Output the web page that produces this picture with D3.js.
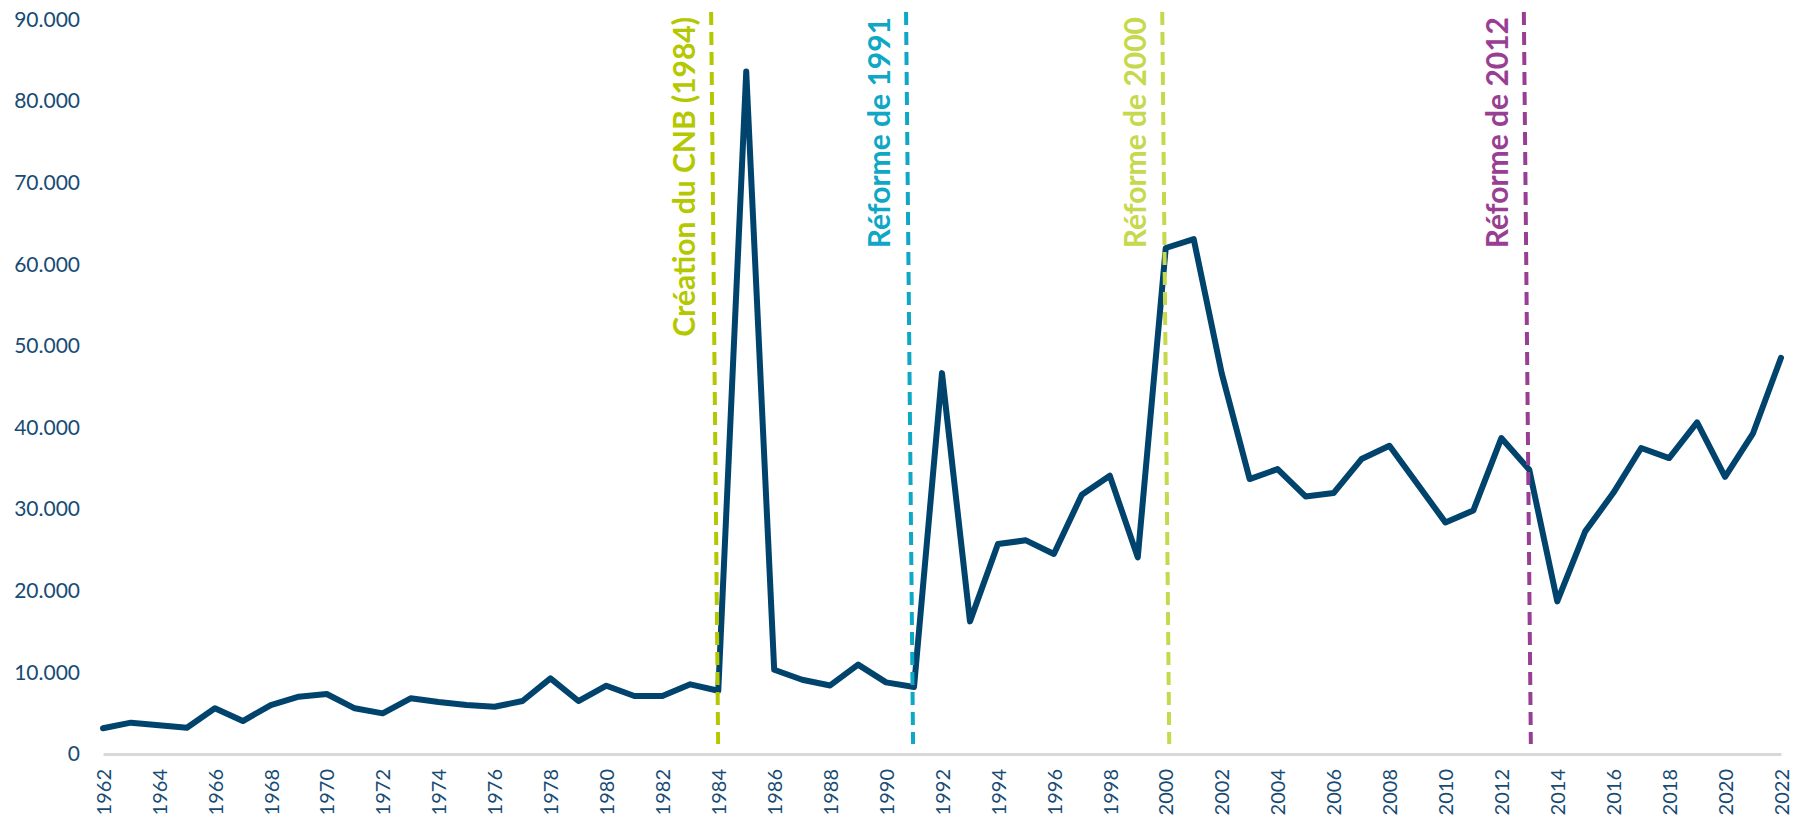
<!DOCTYPE html>
<html>
<head>
<meta charset="utf-8">
<script src="https://cdn.jsdelivr.net/npm/d3@7"></script>
<style>
  body { margin: 0; background: #fff; }
  svg { display: block; }
</style>
</head>
<body>
<svg></svg>
<script>
var width = 1795;
var height = 817;

// years on the x axis
var years = [1962, 1963, 1964, 1965, 1966, 1967, 1968, 1969, 1970, 1971,
    1972, 1973, 1974, 1975, 1976, 1977, 1978, 1979, 1980, 1981,
    1982, 1983, 1984, 1985, 1986, 1987, 1988, 1989, 1990, 1991,
    1992, 1993, 1994, 1995, 1996, 1997, 1998, 1999, 2000, 2001,
    2002, 2003, 2004, 2005, 2006, 2007, 2008, 2009, 2010, 2011,
    2012, 2013, 2014, 2015, 2016, 2017, 2018, 2019, 2020, 2021, 2022];

// values
var values = [3150, 3840, 3510, 3220, 5600, 4040, 6000, 7020, 7350, 5600,
    4980, 6820, 6370, 6000, 5790, 6490, 9270, 6490, 8370, 7100,
    7100, 8540, 7750, 83620, 10320, 9100, 8400, 10950, 8780, 8220,
    46670, 16250, 25730, 26180, 24510, 31770, 34100, 24090, 62000, 63100,
    46670, 33690, 34910, 31560, 31970, 36140, 37770, 33080, 28380, 29850,
    38710, 34830, 18700, 27280, 31970, 37490, 36260, 40630, 33950, 39300, 48550];

var xTickLabels = [1962, 1964, 1966, 1968, 1970, 1972, 1974, 1976, 1978, 1980,
    1982, 1984, 1986, 1988, 1990, 1992, 1994, 1996, 1998, 2000,
    2002, 2004, 2006, 2008, 2010, 2012, 2014, 2016, 2018, 2020, 2022];
var yTickValues = [0, 10000, 20000, 30000, 40000, 50000, 60000, 70000, 80000, 90000];

// vertical dashed markers
var eventNames = ['Création du CNB (1984)', 'Réforme de 1991', 'Réforme de 2000', 'Réforme de 2012'];
var eventPos = [1983.87, 1990.84, 2000.0, 2012.93];
var eventColors = ['#b4c800', '#0ea7c6', '#c6d94c', '#993f93'];

var textColor = '#174b74';
var lineColor = '#00446e';

var svg = d3.select('svg')
    .attr('width', width)
    .attr('height', height);

var x = d3.scaleLinear()
    .domain([1962, 2022])
    .range([103, 1781]);

var y = d3.scaleLinear()
    .domain([0, 90000])
    .range([754, 19.5]);

var fr = d3.formatLocale({ decimal: ',', thousands: '.', grouping: [3], currency: ['', ' €'] });
var fmt = fr.format(',');

// y axis: labels only
var yAxis = svg.append('g')
    .attr('transform', 'translate(80,0)')
    .call(d3.axisLeft(y).tickValues(yTickValues).tickFormat(fmt).tickSize(0).tickPadding(0));
yAxis.select('.domain').remove();
yAxis.selectAll('text')
    .attr('fill', textColor)
    .style('font-family', 'Lato, sans-serif')
    .style('font-size', '21px');

// x axis
var xAxis = svg.append('g')
    .attr('transform', 'translate(0,754)')
    .call(d3.axisBottom(x).tickValues(xTickLabels).tickFormat(d3.format('d')).tickSize(0));
xAxis.select('.domain')
    .attr('stroke', '#d9d9d9')
    .attr('stroke-width', 3);
xAxis.selectAll('text')
    .attr('fill', textColor)
    .attr('transform', 'rotate(-90)')
    .attr('text-anchor', 'end')
    .attr('x', -15)
    .attr('y', 0)
    .attr('dy', '0.36em')
    .style('font-family', 'Lato, sans-serif')
    .style('font-size', '20px');

// the series
var line = d3.line()
    .x(function (d, i) { return x(years[i]); })
    .y(function (d) { return y(d); });

svg.append('path')
    .datum(values)
    .attr('d', line)
    .attr('fill', 'none')
    .attr('stroke', lineColor)
    .attr('stroke-width', 6)
    .attr('stroke-linejoin', 'round')
    .attr('stroke-linecap', 'round');

// event markers, drawn over the series
var ev = svg.selectAll('.event')
    .data(eventNames)
    .enter()
    .append('g')
    .attr('class', 'event');

ev.append('line')
    .attr('x1', function (d, i) { return x(eventPos[i]) - 3.5; })
    .attr('y1', 12)
    .attr('x2', function (d, i) { return x(eventPos[i]) + 3.5; })
    .attr('y2', 744)
    .attr('stroke', function (d, i) { return eventColors[i]; })
    .attr('stroke-width', 4)
    .attr('stroke-dasharray', '13,7');

ev.append('text')
    .attr('transform', function (d, i) {
        return 'translate(' + (x(eventPos[i]) - 3.5 - 16) + ',17) rotate(-90)';
    })
    .attr('text-anchor', 'end')
    .attr('fill', function (d, i) { return eventColors[i]; })
    .style('font-family', 'Lato, sans-serif')
    .style('font-weight', 'bold')
    .style('font-size', '30px')
    .text(function (d) { return d; });
</script>
</body>
</html>
